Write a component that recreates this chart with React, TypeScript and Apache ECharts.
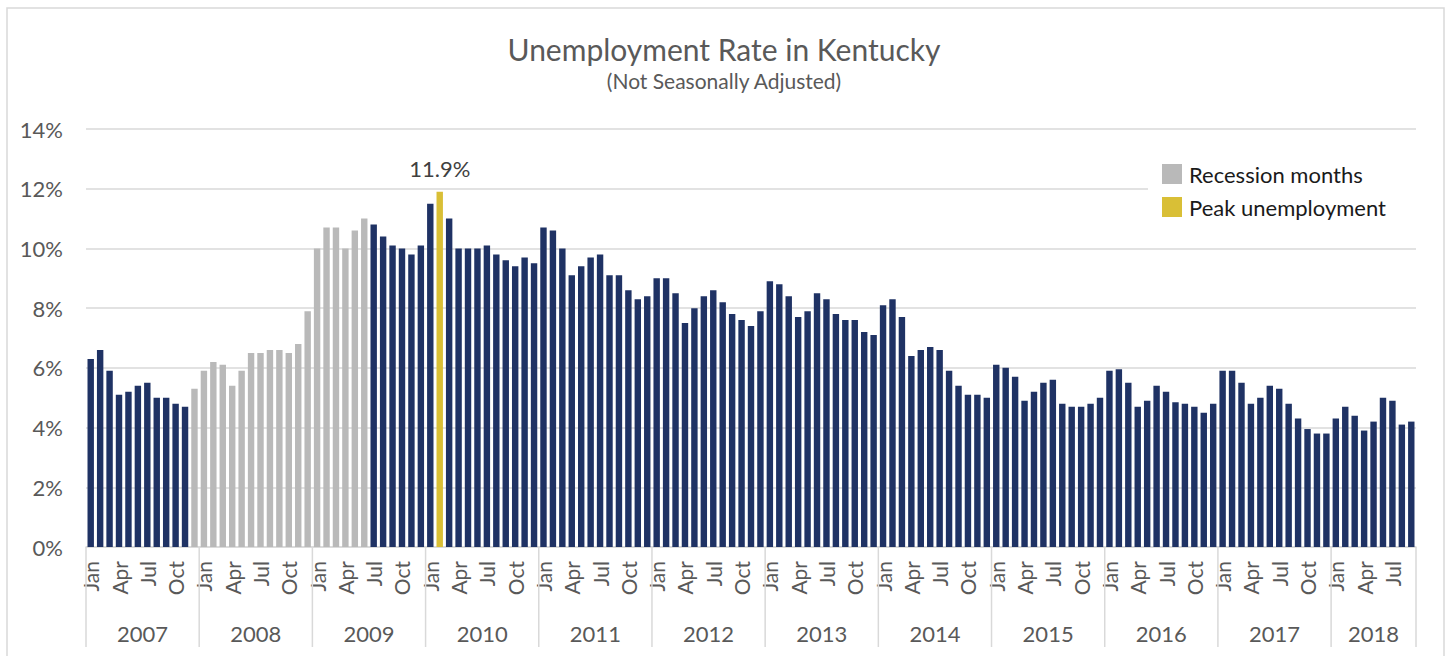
import React, { useEffect, useRef } from "react";
import * as echarts from "echarts";

const TITLE = "Unemployment Rate in Kentucky";
const SUBTITLE = "(Not Seasonally Adjusted)";
const MONTHS = ["Jan", "Feb", "Mar", "Apr", "May", "Jun", "Jul", "Aug", "Sep", "Oct", "Nov", "Dec"];
const YEARS = ["2007", "2008", "2009", "2010", "2011", "2012", "2013", "2014", "2015", "2016", "2017", "2018"];
const Y_TICKS = [0, 2, 4, 6, 8, 10, 12, 14];

const R2007 = [6.3, 6.6, 5.9, 5.1, 5.2, 5.4, 5.5, 5.0, 5.0, 4.8, 4.7, 5.3];
const R2008 = [5.9, 6.2, 6.1, 5.4, 5.9, 6.5, 6.5, 6.6, 6.6, 6.5, 6.8, 7.9];
const R2009 = [10.0, 10.7, 10.7, 10.0, 10.6, 11.0, 10.8, 10.4, 10.1, 10.0, 9.8, 10.1];
const R2010 = [11.5, 11.9, 11.0, 10.0, 10.0, 10.0, 10.1, 9.8, 9.6, 9.4, 9.7, 9.5];
const R2011 = [10.7, 10.6, 10.0, 9.1, 9.4, 9.7, 9.8, 9.1, 9.1, 8.6, 8.3, 8.4];
const R2012 = [9.0, 9.0, 8.5, 7.5, 8.0, 8.4, 8.6, 8.2, 7.8, 7.6, 7.4, 7.9];
const R2013 = [8.9, 8.8, 8.4, 7.7, 7.9, 8.5, 8.3, 7.8, 7.6, 7.6, 7.2, 7.1];
const R2014 = [8.1, 8.3, 7.7, 6.4, 6.6, 6.7, 6.6, 5.9, 5.4, 5.1, 5.1, 5.0];
const R2015 = [6.1, 6.0, 5.7, 4.9, 5.2, 5.5, 5.6, 4.8, 4.7, 4.7, 4.8, 5.0];
const R2016 = [5.9, 5.95, 5.5, 4.7, 4.9, 5.4, 5.2, 4.85, 4.8, 4.7, 4.5, 4.8];
const R2017 = [5.9, 5.9, 5.5, 4.8, 5.0, 5.4, 5.3, 4.8, 4.3, 3.95, 3.8, 3.8];
const R2018 = [4.3, 4.7, 4.4, 3.9, 4.2, 5.0, 4.9, 4.1, 4.2];

const RATES_BY_YEAR = [R2007, R2008, R2009, R2010, R2011, R2012, R2013, R2014, R2015, R2016, R2017, R2018];

// Recession: Dec 2007 – Jun 2009 (indices into the monthly series)
const RECESSION_START = 11;
const RECESSION_END = 29;
// Peak: Feb 2010
const PEAK_INDEX = 37;

const NAVY = "#1F3264";
const GRAY = "#B9B9B9";
const GOLD = "#D9BF36";
const GRID = "#D9D9D9";
const TEXT = "#595959";
const FONT = "Lato";

export default function App() {
  const ref = useRef<HTMLDivElement>(null);

  useEffect(() => {
    if (!ref.current) return;
    const chart = echarts.init(ref.current, null, { renderer: "svg" });

    const rates: number[] = [];
    const cats: string[] = [];
    RATES_BY_YEAR.forEach((arr) => {
      arr.forEach((v, m) => {
        rates.push(v);
        cats.push(MONTHS[m]);
      });
    });
    const N = rates.length;

    const isRec = (i: number) => i >= RECESSION_START && i <= RECESSION_END;
    const navyData = rates.map((v, i) => (!isRec(i) && i !== PEAK_INDEX ? v : "-"));
    const grayData = rates.map((v, i) => (isRec(i) ? v : "-"));
    const goldData = rates.map((v, i) => (i === PEAK_INDEX ? v : "-"));

    const yearData = YEARS.map((y, k) => {
      const start = k * 12;
      const count = Math.min(12, N - start);
      return [start, count, k];
    });

    const option: any = {
      animation: false,
      backgroundColor: "#ffffff",
      textStyle: { fontFamily: FONT },
      title: {
        text: TITLE,
        subtext: SUBTITLE,
        left: "center",
        top: 29,
        itemGap: 6,
        textStyle: { fontFamily: FONT, fontSize: 30, fontWeight: "normal", color: TEXT },
        subtextStyle: { fontFamily: FONT, fontSize: 21, color: TEXT },
      },
      graphic: [
        {
          type: "rect",
          shape: { x: 7, y: 8, width: 1437, height: 700 },
          style: { fill: "none", stroke: GRID, lineWidth: 1.5 },
          silent: true,
          z: -10,
        },
      ],
      legend: {
        data: ["Recession months", "Peak unemployment"],
        orient: "vertical",
        left: 1148,
        top: 149,
        padding: [14, 36, 13, 14],
        itemGap: 11,
        itemWidth: 20,
        itemHeight: 20,
        icon: "rect",
        backgroundColor: "#ffffff",
        textStyle: { fontFamily: FONT, fontSize: 22, color: "#1a1a1a", padding: [0, 0, 0, 2] },
        selectedMode: false,
      },
      grid: { left: 86, right: 32, top: 129, bottom: 109, containLabel: false },
      xAxis: {
        type: "category",
        data: cats,
        boundaryGap: true,
        axisLine: { show: true, lineStyle: { color: GRID, width: 1.5 } },
        axisTick: { show: false },
        axisLabel: {
          interval: (i: number) => i % 3 === 0,
          rotate: 90,
          margin: 14,
          fontFamily: FONT,
          fontSize: 21,
          color: TEXT,
        },
      },
      yAxis: {
        type: "value",
        min: Y_TICKS[0],
        max: Y_TICKS[Y_TICKS.length - 1],
        interval: 2,
        axisLine: { show: false },
        axisTick: { show: false },
        axisLabel: {
          formatter: "{value}%",
          margin: 23,
          fontFamily: FONT,
          fontSize: 22,
          color: TEXT,
        },
        splitLine: { lineStyle: { color: GRID, width: 1.5 } },
      },
      series: [
        {
          name: "Unemployment rate",
          type: "bar",
          data: navyData,
          barWidth: "68%",
          barGap: "-100%",
          itemStyle: { color: NAVY },
        },
        {
          name: "Recession months",
          type: "bar",
          data: grayData,
          barWidth: "68%",
          barGap: "-100%",
          itemStyle: { color: GRAY },
        },
        {
          name: "Peak unemployment",
          type: "bar",
          data: goldData,
          barWidth: "68%",
          barGap: "-100%",
          itemStyle: { color: GOLD },
          label: {
            show: true,
            position: "top",
            distance: 12,
            formatter: "{c}%",
            fontFamily: FONT,
            fontSize: 22,
            color: "#404040",
          },
        },
        {
          name: "years",
          type: "custom",
          silent: true,
          clip: false,
          data: yearData,
          encode: { x: 0, y: 2 },
          renderItem: (params: any, api: any) => {
            const start = api.value(0);
            const count = api.value(1);
            const k = api.value(2);
            const p = api.coord([start, 0]);
            const bw = api.size([1, 0])[0];
            const x0 = p[0] - bw / 2;
            const x1 = x0 + count * bw;
            const y0 = p[1];
            const children: any[] = [
              {
                type: "line",
                shape: { x1: x0, y1: y0, x2: x0, y2: y0 + 100 },
                style: { stroke: GRID, lineWidth: 1.5 },
              },
              {
                type: "text",
                x: (x0 + x1) / 2,
                y: y0 + 86,
                style: {
                  text: YEARS[k],
                  textAlign: "center",
                  textVerticalAlign: "middle",
                  fontFamily: FONT,
                  fontSize: 22,
                  fill: TEXT,
                },
              },
            ];
            if (k === YEARS.length - 1) {
              children.push({
                type: "line",
                shape: { x1: x1, y1: y0, x2: x1, y2: y0 + 100 },
                style: { stroke: GRID, lineWidth: 1.5 },
              });
            }
            return { type: "group", children };
          },
        },
      ],
    };

    chart.setOption(option);
    return () => chart.dispose();
  }, []);

  return (
    <div
      ref={ref}
      style={{ position: "fixed", left: 0, top: 0, width: 1448, height: 656 }}
    />
  );
}
